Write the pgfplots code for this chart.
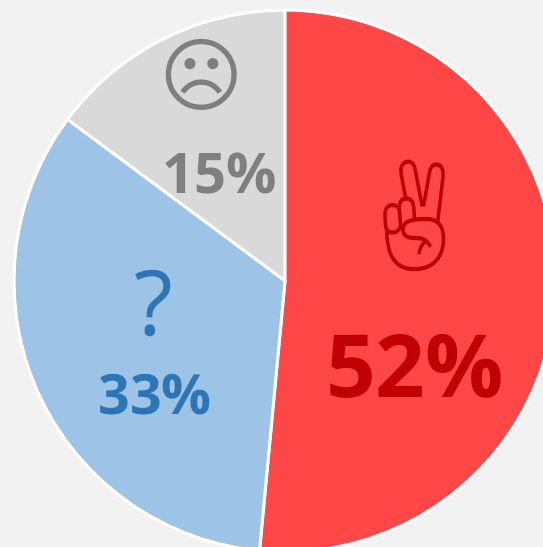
\documentclass[border=0pt]{standalone}
\usepackage{pgfplots}
\pgfplotsset{compat=1.18}
\usepgfplotslibrary{polar}
\usepackage{fontspec}
\setmainfont{Open Sans}
\newfontfamily\sym{DejaVu Sans}
\newfontfamily\emo{Noto Emoji}
\definecolor{bg}{HTML}{F2F2F2}
\definecolor{redw}{HTML}{FF4747}
\definecolor{bluew}{HTML}{9DC3E6}
\definecolor{grayw}{HTML}{D9D9D9}
\definecolor{redt}{HTML}{C00000}
\definecolor{bluet}{HTML}{2E75B6}
\definecolor{grayt}{HTML}{7F7F7F}
\begin{document}
\begin{tikzpicture}[x=1pt,y=1pt]
\path[use as bounding box] (0,0) rectangle (543,547);
\clip (0,0) rectangle (543,547);
\fill[bg] (0,0) rectangle (543,547);
\begin{polaraxis}[at={(285pt,266pt)},anchor=origin,width=542pt,height=542pt,scale only axis,hide axis,
  xmin=0,xmax=360,ymin=0,ymax=271,clip=false]
\addplot[draw=white,line width=3pt,fill=redw,line join=round,mark=none] coordinates {
(0,0)(-95.4,271)(-92,271)(-88,271)(-84,271)(-80,271)(-76,271)(-72,271)(-68,271)(-64,271)(-60,271)(-56,271)(-52,271)(-48,271)(-44,271)(-40,271)(-36,271)(-32,271)(-28,271)(-24,271)(-20,271)(-16,271)(-12,271)(-8,271)(-4,271)(0,271)(4,271)(8,271)(12,271)(16,271)(20,271)(24,271)(28,271)(32,271)(36,271)(40,271)(44,271)(48,271)(52,271)(56,271)(60,271)(64,271)(68,271)(72,271)(76,271)(80,271)(84,271)(88,271)(90,271)(0,0)} -- cycle;
\addplot[draw=white,line width=3pt,fill=grayw,line join=round,mark=none] coordinates {
(0,0)(90,271)(94,271)(98,271)(102,271)(106,271)(110,271)(114,271)(118,271)(122,271)(126,271)(130,271)(134,271)(138,271)(142,271)(143.4,271)(0,0)} -- cycle;
\addplot[draw=white,line width=3pt,fill=bluew,line join=round,mark=none] coordinates {
(0,0)(143.4,271)(148,271)(152,271)(156,271)(160,271)(164,271)(168,271)(172,271)(176,271)(180,271)(184,271)(188,271)(192,271)(196,271)(200,271)(204,271)(208,271)(212,271)(216,271)(220,271)(224,271)(228,271)(232,271)(236,271)(240,271)(244,271)(248,271)(252,271)(256,271)(260,271)(264,271)(264.6,271)(0,0)} -- cycle;
\end{polaraxis}
\node[text=redt,font=\bfseries\fontsize{87}{87}\selectfont] at (415,181) {52\%};
\node[text=bluet,font=\bfseries\fontsize{55.5}{55}\selectfont] at (155,152) {33\%};
\node[text=grayt,font=\bfseries\fontsize{56}{56}\selectfont] at (220,373) {15\%};
\node[text=bluet,font=\fontsize{90}{90}\selectfont] at (154,243) {?};
\node[text=redt,font=\emo\fontsize{110}{110}\selectfont,xscale=0.82] at (415,331) {✌};
\node[text=grayt,font=\sym\fontsize{81}{81}\selectfont] at (202,472) {☹};
\end{tikzpicture}
\end{document}
